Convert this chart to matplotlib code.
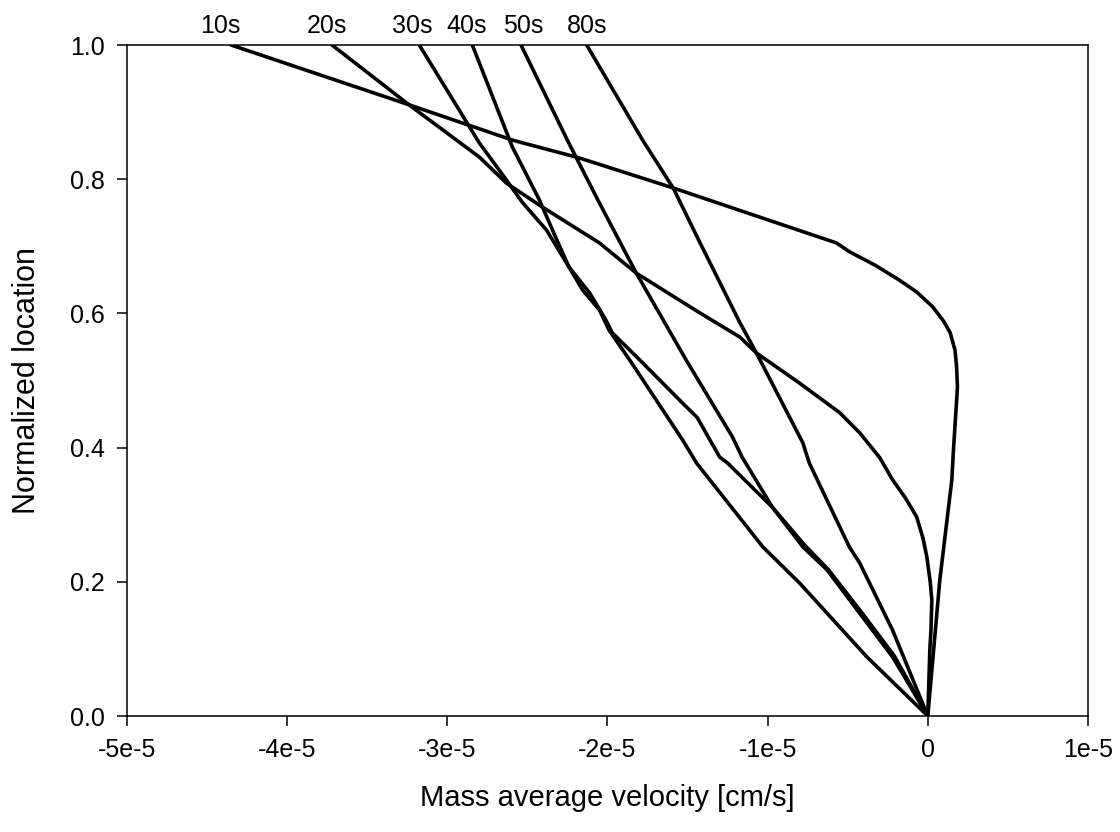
import numpy as np
import matplotlib
matplotlib.use("Agg")
import matplotlib.pyplot as plt

plt.rcParams['font.family'] = ['Liberation Sans', 'DejaVu Sans']

# ============================================================
# DATA  (x in units of 1e-5 cm/s, y = normalized location)
# ============================================================
SCALE = 1e-5

labels = ["10s", "20s", "30s", "40s", "50s", "80s"]

x_10s = [-4.35, -3.24, -2.59, -2.18, -1.59, -1.18, -0.57, -0.49, -0.33, -0.18, -0.07, 0.03,
         0.10, 0.14, 0.17, 0.18, 0.185, 0.18, 0.16, 0.15, 0.075, 0.0]
y_10s = [1.0, 0.911, 0.858, 0.832, 0.787, 0.754, 0.705, 0.692, 0.672, 0.650, 0.632, 0.610,
         0.588, 0.571, 0.545, 0.520, 0.490, 0.471, 0.396, 0.352, 0.203, 0.0]

x_20s = [-3.72, -3.24, -2.80, -2.63, -2.41, -2.05, -1.82, -1.425, -1.175, -1.07, -0.80, -0.55,
         -0.425, -0.30, -0.22, -0.14, -0.07, -0.03, -0.006, 0.015, 0.025, 0.02, 0.0125, 0.0]
y_20s = [1.0, 0.911, 0.833, 0.794, 0.759, 0.705, 0.660, 0.601, 0.565, 0.541, 0.496, 0.452,
         0.422, 0.385, 0.352, 0.325, 0.297, 0.265, 0.237, 0.200, 0.173, 0.130, 0.098, 0.0]

x_30s = [-3.175, -2.80, -2.644, -2.53, -2.38, -2.24, -2.11, -2.01, -1.97, -1.80, -1.53, -1.44,
         -1.30, -1.25, -0.97, -0.78, -0.63, -0.425, -0.22, 0.0]
y_30s = [1.0, 0.854, 0.803, 0.765, 0.724, 0.669, 0.630, 0.590, 0.571, 0.531, 0.466, 0.445,
         0.386, 0.377, 0.311, 0.252, 0.218, 0.153, 0.088, 0.0]

x_40s = [-2.844, -2.594, -2.425, -2.33, -2.24, -2.156, -2.05, -1.99, -1.8625, -1.53, -1.444,
         -1.03, -0.80, -0.38, 0.0]
y_40s = [1.0, 0.848, 0.769, 0.717, 0.669, 0.635, 0.605, 0.575, 0.531, 0.411, 0.377,
         0.252, 0.198, 0.088, 0.0]

x_50s = [-2.54, -2.25, -2.06, -1.82, -1.51, -1.22, -1.16, -0.97, -0.77, -0.62, -0.415, -0.21, 0.0]
y_50s = [1.0, 0.858, 0.769, 0.660, 0.531, 0.416, 0.386, 0.311, 0.255, 0.218, 0.155, 0.090, 0.0]

x_80s = [-2.13, -1.78, -1.59, -1.43, -1.175, -1.07, -0.78, -0.74, -0.49, -0.425, -0.22, 0.0]
y_80s = [1.0, 0.858, 0.787, 0.709, 0.587, 0.541, 0.407, 0.377, 0.252, 0.228, 0.128, 0.0]

# label anchors above the top axis (x in 1e-5 units)
label_x = [-4.42, -3.75, -3.22, -2.88, -2.525, -2.125]

xticks = [-5e-5, -4e-5, -3e-5, -2e-5, -1e-5, 0, 1e-5]
xtick_labels = ["-5e-5", "-4e-5", "-3e-5", "-2e-5", "-1e-5", "0", "1e-5"]
yticks = [0.0, 0.2, 0.4, 0.6, 0.8, 1.0]
ytick_labels = ["0.0", "0.2", "0.4", "0.6", "0.8", "1.0"]

series = [(x_10s, y_10s), (x_20s, y_20s), (x_30s, y_30s),
          (x_40s, y_40s), (x_50s, y_50s), (x_80s, y_80s)]

# ============================================================
# PLOT
# ============================================================
fig = plt.figure(figsize=(11.2, 8.32), dpi=100)
ax = fig.add_axes([0.1134, 0.1394, 0.858, 0.8065])

for xs, ys in series:
    ax.plot(np.array(xs) * SCALE, ys, color="black", lw=2.6,
            solid_joinstyle="round", solid_capstyle="round")

for lab, lx in zip(labels, label_x):
    ax.annotate(lab, xy=(lx * SCALE, 1.0), xytext=(0, 9), textcoords="offset points",
                ha="center", va="baseline", fontsize=18, annotation_clip=False)

ax.set_xlim(-5e-5, 1e-5)
ax.set_ylim(0, 1.0)
ax.set_xticks(xticks)
ax.set_xticklabels(xtick_labels)
ax.set_yticks(yticks)
ax.set_yticklabels(ytick_labels)
ax.tick_params(direction="out", length=7, width=1.1, labelsize=18, pad=9,
               top=False, right=False)
for s in ax.spines.values():
    s.set_linewidth(1.1)

ax.set_xlabel("Mass average velocity [cm/s]", fontsize=21, labelpad=16)
ax.set_ylabel("Normalized location", fontsize=22, labelpad=20)

fig.savefig("out.png", dpi=100)
